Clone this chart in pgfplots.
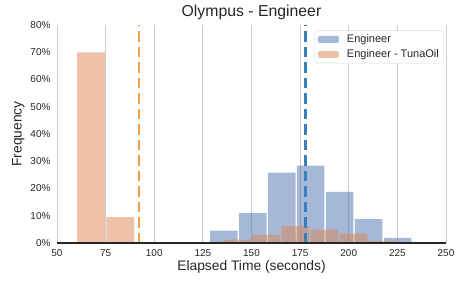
\documentclass[border=0pt]{standalone}
\usepackage{pgfplots}
\pgfplotsset{compat=1.18}
\usepackage{fontspec}
\setmainfont{Liberation Sans}
\definecolor{bluehist}{RGB}{76,114,176}
\definecolor{orhist}{RGB}{221,132,82}
\definecolor{bluemean}{RGB}{58,126,186}
\definecolor{ormean}{RGB}{245,158,80}
\definecolor{txt}{RGB}{38,38,38}
\begin{document}
\begin{tikzpicture}
\begin{axis}[
  scale only axis, width=389pt, height=218pt,
  xmin=50, xmax=250, ymin=0, ymax=80,
  xtick={50,75,...,250}, ytick={0,10,...,80},
  yticklabel={\pgfmathprintnumber{\tick}\%},
  /pgf/number format/assume math mode=true,
  major tick length=0pt,
  axis x line*=bottom, axis y line*=left,
  axis line style={-},
  x axis line style={black, line width=1.2pt},
  y axis line style={draw=none},
  xmajorgrids, grid style={color=black!20, line width=0.8pt},
  tick label style={font=\fontsize{10}{12}\selectfont, text=txt},
  yticklabel style={xshift=-3pt},
  xticklabel style={yshift=-3pt},
  xlabel={Elapsed Time (seconds)},
  ylabel={Frequency},
  label style={font=\fontsize{13.8}{16}\selectfont, text=txt},
  xlabel style={yshift=3pt},
  ylabel style={yshift=-1pt},
  title={Olympus - Engineer},
  title style={font=\fontsize{15.8}{18}\selectfont, text=txt, yshift=-4pt},
  legend style={at={(0.995,0.975)}, anchor=north east, draw=black!15, rounded corners=2pt,
    font=\fontsize{11}{13}\selectfont, text=txt, row sep=1.5pt, inner xsep=3pt},
  legend cell align=left,
  legend image code/.code={\fill[#1] (0pt,-3.5pt) rectangle (21pt,3.5pt); \path (27pt,0pt);},
]
\addplot[ybar interval, fill=bluehist, fill opacity=0.5, draw=none, bar interval width=0.95]
  coordinates {(128.3,4.5)(143.2,11)(158.1,25.8)(173.0,28.4)(187.9,18.8)(202.8,8.8)(217.7,1.9)(232.6,0)};
\addlegendentry{Engineer}
\addplot[ybar interval, fill=orhist, fill opacity=0.5, draw=none, bar interval width=0.95]
  coordinates {(60,70)(75,9.5)(90,0)(105,0)(120,0)(135,1.2)(150,3.0)(165,6.3)(180,4.9)(195,3.4)(210,0.8)(225,0)};
\addlegendentry{Engineer - TunaOil}
\addplot[bluemean, line width=2.8pt, dash pattern=on 10.5pt off 5pt, forget plot]
  coordinates {(177.9,0)(177.9,80)};
\addplot[ormean, line width=2.8pt, dash pattern=on 10.5pt off 5pt, forget plot]
  coordinates {(92.2,0)(92.2,80)};
\addplot[black!85, line width=1.2pt, forget plot] coordinates {(50,0)(250,0)};
\coordinate (ll) at (rel axis cs:0,0);
\end{axis}
\path (ll) ++(-57pt,-44pt) rectangle ++(463pt,287pt);
\end{tikzpicture}
\end{document}
